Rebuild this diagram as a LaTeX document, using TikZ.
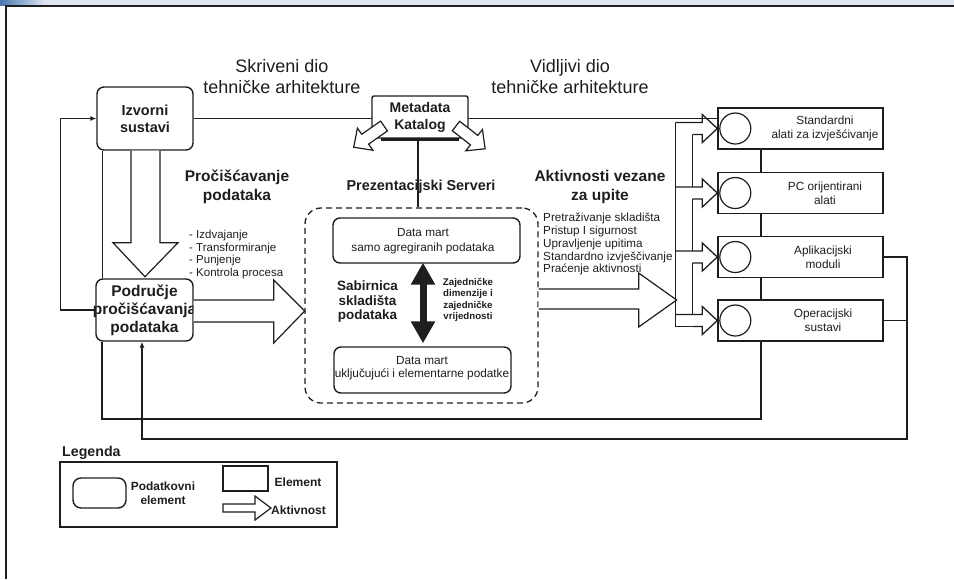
\documentclass[tikz,border=0pt]{standalone}
\usepackage{fontspec}
\setmainfont{Liberation Sans}
\usetikzlibrary{calc,arrows.meta}
\definecolor{barL}{RGB}{72,118,172}
\definecolor{barR}{RGB}{222,231,241}
\definecolor{ink}{RGB}{30,30,30}
\newcommand\fsz[2]{\fontsize{#1}{#2}\selectfont}
\newcommand\hollowarr[6]{%
  \begin{scope}[shift={(#1)}, rotate=#2]
    \draw[hollow] (0,-#4) -- (#3-#6,-#4) -- (#3-#6,-#5) -- (#3,0) -- (#3-#6,#5) -- (#3-#6,#4) -- (0,#4) -- cycle;
  \end{scope}}
\begin{document}
\begin{tikzpicture}[x=1pt,y=-1pt, line join=miter,
  ln/.style={draw=ink, line width=1.3pt},
  databox/.style={draw=ink, line width=1.4pt, rounded corners=7pt, fill=white, inner sep=0pt},
  elbox/.style={draw=ink, line width=1.4pt, fill=white, inner sep=0pt},
  hollow/.style={draw=ink, line width=1.2pt, fill=white},
  txt/.style={text=ink, inner sep=0pt, align=center},
  tip/.style={-{Latex[length=6pt,width=5pt]}},
]
\useasboundingbox (0,0) rectangle (954,579);
% window frame
\fill[barR] (0,0) rectangle (954,5);
\shade[left color=barL, right color=barR] (0,0) rectangle (45,5);
\draw[line width=1.6pt, ink] (5,5.8) -- (954,5.8);
\draw[line width=1.6pt, ink] (5.8,5) -- (5.8,579);

% headings
\node[txt, font=\fsz{18}{21}] (skr) at (282,77) {Skriveni dio\\tehničke arhitekture};
\node[txt, font=\fsz{18}{21}] (vid) at (570,77) {Vidljivi dio\\tehničke arhitekture};
\node[txt, font=\bfseries\fsz{15.5}{19.5}] (proc) at (237,187) {Pročišćavanje\\podataka};
\node[txt, font=\bfseries\fsz{15.5}{19.5}] (akt) at (600,187) {Aktivnosti vezane\\za upite};

% right boxes
\node[elbox, minimum width=165pt, minimum height=41pt] (s1) at (800.5,128.5) {};
\node[elbox, minimum width=165pt, minimum height=41pt] (s2) at (800.5,193) {};
\node[elbox, minimum width=165pt, minimum height=41pt] (s3) at (800.5,257) {};
\node[elbox, minimum width=165pt, minimum height=41pt] (s4) at (800.5,320.5) {};
\foreach \n in {s1,s2,s3,s4}{
  \node[draw=ink, line width=1.2pt, circle, minimum size=31pt, inner sep=0pt] (\n c) at ($(\n.west)+(18,0)$) {};
}
\node[txt, font=\fsz{11.8}{14}] (t1) at ($(s1)+(24.5,0)$) {Standardni\\alati za izvješćivanje};
\node[txt, font=\fsz{11.8}{14}] (t2) at ($(s2)+(24.5,0)$) {PC orijentirani\\alati};
\node[txt, font=\fsz{11.8}{14}] (t3) at ($(s3)+(22.5,0)$) {Aplikacijski\\moduli};
\node[txt, font=\fsz{11.8}{14}] (t4) at ($(s4)+(22.5,0)$) {Operacijski\\sustavi};
\foreach \a/\b in {s1/s2,s2/s3,s3/s4}
  \draw[ln] ([xshift=-39.5pt]\a.south) -- ([xshift=-39.5pt]\b.north);

% source and staging
\node[databox, minimum width=96pt, minimum height=63pt, font=\bfseries\fsz{14.5}{17}, text=ink, align=center] (izv) at (145,118.5) {Izvorni\\sustavi};
\node[databox, minimum width=97pt, minimum height=62pt] (pod) at (144.5,310) {};
\node[txt, font=\bfseries\fsz{15.5}{18}] (podt) at (pod) {Područje\\pročišćavanja\\podataka};

% line from sources to tools (behind metadata)
\draw[ln] (izv.east) -- (izv.east -| s1.west);

% metadata
\node[elbox, rounded corners=2pt, minimum width=96pt, minimum height=42pt, font=\bfseries\fsz{14}{17}, text=ink, align=center] (meta) at (420,117) {Metadata\\Katalog};
\draw[ink, line width=3pt] ([xshift=10pt,yshift=-0.5pt]meta.south west) -- ([xshift=-10pt,yshift=-0.5pt]meta.south east);
\hollowarr{384,126}{215}{37}{6}{13.5}{14}
\hollowarr{456,126}{-38}{37}{6}{13.5}{14}

% presentation servers
\node[draw=ink, line width=1.3pt, dash pattern=on 6pt off 4pt, rounded corners=16pt, minimum width=233pt, minimum height=195pt, inner sep=0pt] (dw) at (421.5,305.5) {};
\node[txt, font=\bfseries\fsz{14.4}{17}] (prez) at (421,187) {Prezentacijski Serveri};
\draw[ln] (meta.south -| 418,0) -- (dw.north -| 418,0);

\node[databox, minimum width=187pt, minimum height=45pt] (dm1) at (426.5,240.5) {};
\node[txt, font=\fsz{11.8}{15.5}] (dm1t) at (423,241) {Data mart\\samo agregiranih podataka};
\node[databox, minimum width=177pt, minimum height=46pt] (dm2) at (422.5,370) {};
\node[txt, font=\fsz{11.8}{12.5}] (dm2t) at (422,368) {Data mart\\uključujući i elementarne podatke};

\node[txt, font=\bfseries\fsz{13.5}{14.5}] (sab) at (367.5,302) {Sabirnica\\skladišta\\podataka};
\node[txt, font=\bfseries\fsz{9.7}{11.3}] (zaj) at (468,300) {Zajedničke\\dimenzije i\\zajedničke\\vrijednosti};
\coordinate (da) at ([xshift=-3.5pt]dm1.south);
\draw[ink, line width=7pt, {Triangle[length=22pt,width=23pt]}-{Triangle[length=22pt,width=23pt]}, shorten <=-1pt, shorten >=3pt] (da) -- (da |- dm2.north);

% lists
\node[txt, align=left, anchor=north west, font=\fsz{11.5}{12.7}] (lst1) at (189,230) {- Izdvajanje\\- Transformiranje\\- Punjenje\\- Kontrola procesa};
\node[txt, align=left, anchor=north west, font=\fsz{11.7}{12.8}] (lst2) at (543,213) {Pretraživanje skladišta\\Pristup I sigurnost\\Upravljenje upitima\\Standardno izvješčivanje\\Praćenje aktivnosti};

% big hollow arrows
\draw[hollow] ($(izv.south)+(-14,0)$) -- ($(izv.south)+(-14,92)$) -- ($(izv.south)+(-32,92)$) -- ($(izv.south)+(0,126)$) -- ($(izv.south)+(33,92)$) -- ($(izv.south)+(15,92)$) -- ($(izv.south)+(15,0)$);
\draw[hollow] ($(pod.east)+(0,-10)$) -- ($(pod.east)+(80,-10)$) -- ($(pod.east)+(80,-30)$) -- ($(pod.east)+(111,1)$) -- ($(pod.east)+(80,33)$) -- ($(pod.east)+(80,12)$) -- ($(pod.east)+(0,12)$);
\draw[hollow] ($(dw.east)+(0,-16.5)$) -- ($(dw.east)+(100,-16.5)$) -- ($(dw.east)+(100,-32.5)$) -- ($(dw.east)+(138,-5.5)$) -- ($(dw.east)+(100,21.5)$) -- ($(dw.east)+(100,3.5)$) -- ($(dw.east)+(0,3.5)$);

% fork to tools
\foreach \n in {s1,s2,s3,s4}{
  \draw[ln] ($(\n.west)+(-42,-6)$) -- ($(\n.west)+(-15,-6)$) -- ($(\n.west)+(-15,-14)$) -- (\n.west) -- ($(\n.west)+(-15,14)$) -- ($(\n.west)+(-15,6)$) -- ($(\n.west)+(-25,6)$);
}
\draw[ln] ($(s1.west)+(-42,-6)$) -- ($(s4.west)+(-42,6)$);
\draw[ln] ($(s4.west)+(-25,6)$) -- ($(s4.west)+(-42,6)$);
\foreach \a/\b in {s1/s2,s2/s3,s3/s4}
  \draw[ln] ($(\a.west)+(-25,6)$) -- ($(\b.west)+(-25,-6)$);

% connectors
\coordinate (low1) at (0,419);
\coordinate (low2) at (0,439);
\coordinate (rx) at (907,0);
\draw[ln] ([xshift=-42.5pt]izv.south) -- ([xshift=-42.5pt]izv.south |- pod.north);
\draw[ln, tip] (pod.west) -- ++(-35,0) |- (izv.west);
\draw[ln] ([xshift=-42.5pt]pod.south) |- ([xshift=-39.5pt]s4.south |- low1) -- ([xshift=-39.5pt]s4.south);
\draw[ln] (s3.east) -| (rx |- s4.east);
\draw[ln, tip] (s4.east) -| (rx |- low2) -| ([xshift=-2.5pt]pod.south);

% legend
\node[txt, anchor=west, font=\bfseries\fsz{14.2}{16}] (leg) at (62,453) {Legenda};
\node[draw=ink, line width=1.4pt, minimum width=277pt, minimum height=65pt, inner sep=0pt] (legbox) at (198.5,494.5) {};
\node[databox, rounded corners=8pt, minimum width=53pt, minimum height=30pt] (lg1) at (99.5,493) {};
\node[txt, font=\bfseries\fsz{11.9}{14}] (lg1t) at (163,493) {Podatkovni\\element};
\node[elbox, line width=1.2pt, minimum width=45pt, minimum height=25pt] (lg2) at (245.5,478.5) {};
\node[txt, font=\bfseries\fsz{12}{14}] (lg2t) at (298,482) {Element};
\draw[hollow] (223,504) -- (255,504) -- (255,496) -- (271,508) -- (255,520) -- (255,512) -- (223,512) -- cycle;
\node[txt, anchor=west, font=\bfseries\fsz{12}{14}] (lg3t) at (271,510) {Aktivnost};
\end{tikzpicture}
\end{document}
